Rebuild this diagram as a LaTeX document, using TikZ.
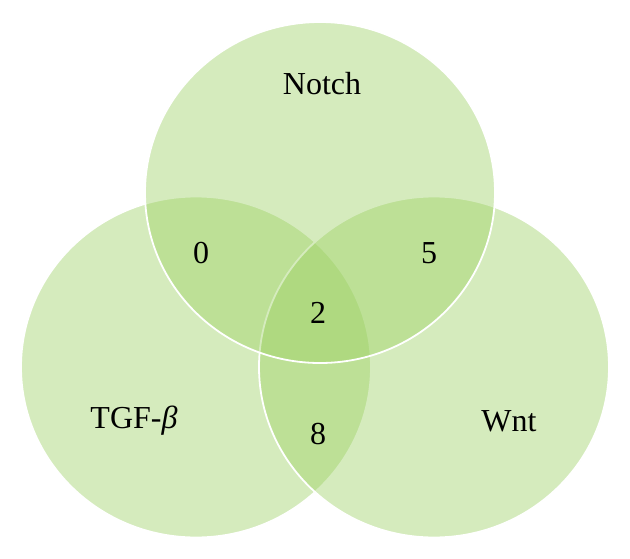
\documentclass[tikz,border=0pt]{standalone}
\usepackage{fontspec}
\setmainfont{Liberation Serif}
\begin{document}
\begin{tikzpicture}[x=1pt,y=-1pt,
  setfill/.style={fill={rgb,255:red,156;green,209;blue,98}, fill opacity=0.42},
  setedge/.style={draw=white, line width=1.8pt},
  lbl/.style={font=\fontsize{32}{36}\selectfont, text=black, inner sep=0pt}]
\useasboundingbox (0,0) rectangle (630,558);
\fill[white] (0,0) rectangle (630,558);
% circles: left, right, top
\path[setfill] (196,367) ellipse [x radius=175pt, y radius=170.5pt];
\path[setedge] (196,367) ellipse [x radius=175pt, y radius=170.5pt];
\path[setfill] (434,367) ellipse [x radius=175pt, y radius=170.5pt];
\path[setedge] (434,367) ellipse [x radius=175pt, y radius=170.5pt];
\path[setfill] (320,192.5) ellipse [x radius=175pt, y radius=170.5pt];
\path[setedge] (320,192.5) ellipse [x radius=175pt, y radius=170.5pt];
% labels
\node[lbl] (notch) at (322,84) {Notch};
\node[lbl] (tgf) at (134,421) {TGF-\textit{β}};
\node[lbl] (wnt) at (509,421) {Wnt};
\node[lbl] (n0) at (201,253) {0};
\node[lbl] (n5) at (429,253) {5};
\node[lbl] (n2) at (318,313) {2};
\node[lbl] (n8) at (318,434) {8};
\end{tikzpicture}
\end{document}
